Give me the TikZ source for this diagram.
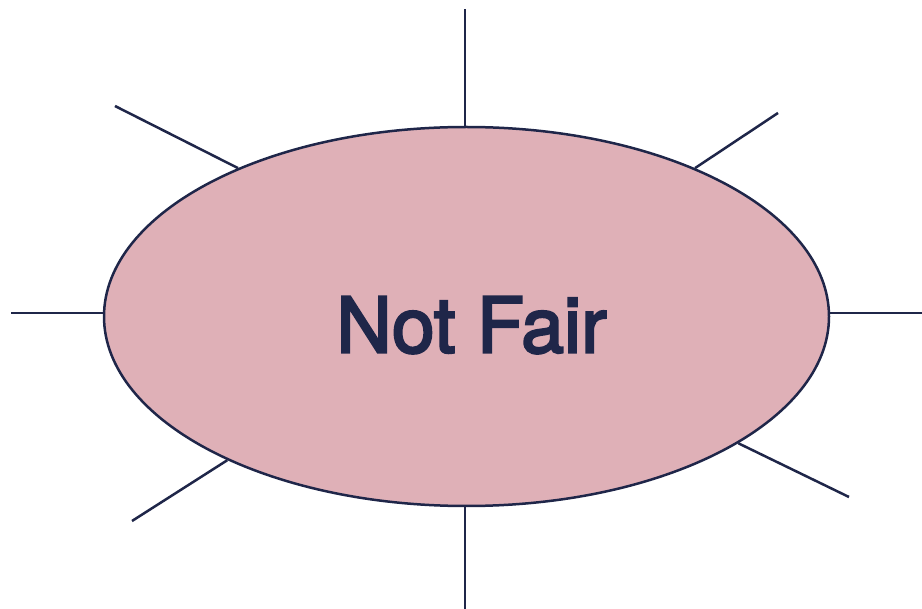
\documentclass[tikz,border=0pt]{standalone}
\usepackage{fontspec}
\setsansfont{TeX Gyre Heros}[FakeBold=3]
\usetikzlibrary{shapes.geometric}
\definecolor{inkNavy}{HTML}{1F2649}
\definecolor{fillRose}{HTML}{DFB0B7}
\tikzset{
    font=\sffamily,
    % Colors
    compRose/.style={draw=inkNavy, fill=fillRose},
    % Shapes
    bubble/.style={ellipse, line width=1.25pt, compRose, inner sep=0pt,
                   minimum width=362.5pt, minimum height=189.5pt, align=center,
                   text=inkNavy, font=\sffamily\fontsize{38.5}{40}\selectfont},
    % Rays
    ray/.style={line width=1.25pt, draw=inkNavy}
}
\begin{document}
\begin{tikzpicture}[x=0.5pt, y=-0.5pt]
\useasboundingbox (0,0) rectangle (922,609);

\node[bubble] (core) at (466.5,316.5) {\hspace*{5pt}\raisebox{-4pt}[\height][0pt]{Not Fair}};

\coordinate (endN)  at (465,9);
\coordinate (endS)  at (465,609);
\coordinate (endW)  at (11,313);
\coordinate (endE)  at (922,313);
\coordinate (endNW) at (115,106);
\coordinate (endNE) at (778,113);
\coordinate (endSW) at (132,521);
\coordinate (endSE) at (849,497);

\draw[ray] (endN |- core.north) -- (endN);
\draw[ray] (endS |- core.south) -- (endS);
\draw[ray] (endW -| core.west) -- (endW);
\draw[ray] (endE -| core.east) -- (endE);
\draw[ray] (core.147.7) -- (endNW);
\draw[ray] (core.33.4) -- (endNE);
\draw[ray] (core.211.2) -- (endSW);
\draw[ray] (core.335.8) -- (endSE);

\end{tikzpicture}
\end{document}
